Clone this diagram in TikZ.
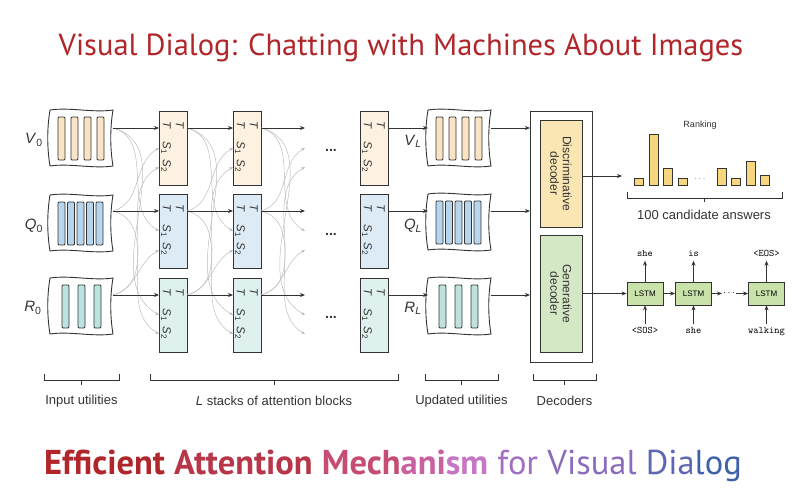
\documentclass[tikz,border=0pt]{standalone}
\usepackage{fontspec}
\setmainfont{Liberation Sans}
\newfontfamily\headfont{PT Sans}
\usetikzlibrary{arrows.meta,positioning,calc}
\usepackage{xcolor}
\definecolor{ink}{HTML}{333333}
\definecolor{soft}{HTML}{BDBDBD}
\definecolor{titlered}{HTML}{B0262A}
\definecolor{vfill}{HTML}{FDF1E2}
\definecolor{vbar}{HTML}{FBE3C6}
\definecolor{qfill}{HTML}{DDEBF6}
\definecolor{qbar}{HTML}{B7D6EE}
\definecolor{rfill}{HTML}{DFF1EF}
\definecolor{rbar}{HTML}{BDE3E1}
\definecolor{discfill}{HTML}{FAE6B2}
\definecolor{genfill}{HTML}{D5E8C6}
\definecolor{lstmfill}{HTML}{C8E2AA}
\definecolor{rankfill}{HTML}{F6D77F}
\definecolor{e1}{HTML}{B0262A}
\definecolor{e2}{HTML}{B8364A}
\definecolor{m1}{HTML}{C74C72}
\definecolor{m2}{HTML}{C960A0}
\definecolor{m3}{HTML}{C676C4}
\definecolor{f1}{HTML}{A26FC0}
\definecolor{f2}{HTML}{8A6CBA}
\definecolor{f3}{HTML}{5E68B2}
\definecolor{f4}{HTML}{3D62A8}
\tikzset{
  utilbox/.style={anchor=north west, minimum width=63, minimum height=56,
                  inner sep=0, outer sep=0},
  barstyle/.style={draw=ink, line width=0.8pt, rounded corners=1pt},
  attblock/.style={draw=ink, line width=0.8pt, anchor=north west, minimum width=28,
                   minimum height=74, inner sep=0, outer sep=0},
  blocktxt/.style={rotate=-90, anchor=north west, align=left, inner sep=0,
                   font=\fontsize{11.5}{13}\selectfont, text=ink},
  varlbl/.style={font=\fontsize{15}{15}\selectfont, text=ink, inner sep=1pt},
  decbox/.style={draw=ink, line width=0.8pt, anchor=north west, minimum width=42,
                 inner sep=0, outer sep=0},
  dectxt/.style={rotate=-90, align=center, font=\fontsize{12}{12.5}\selectfont, text=ink},
  rankbar/.style={draw=ink, line width=0.8pt, fill=rankfill, minimum width=9,
                  inner sep=0, outer sep=0},
  lstm/.style={draw=ink, line width=0.8pt, fill=lstmfill, minimum width=36,
               minimum height=23, inner sep=0, font=\fontsize{8}{8}\selectfont},
  tok/.style={font=\ttfamily\fontsize{10}{10}\selectfont, inner sep=2pt,
              text height=7pt, text depth=2pt},
  ar/.style={-{Stealth[length=5pt, width=4pt]}, line width=0.8pt, draw=ink},
  argray/.style={-{Stealth[length=4pt, width=3pt]}, line width=0.5pt, draw=soft},
  bracket/.style={draw=ink, line width=0.7pt},
  lbl/.style={font=\fontsize{13}{13}\selectfont, text=ink},
  dotlbl/.style={font=\bfseries\fontsize{14}{14}\selectfont, text=ink, inner sep=1pt},
  headtxt/.style={font=\headfont\fontsize{30.5}{30.5}\selectfont}
}
\begin{document}
\begin{tikzpicture}[x=1pt,y=1pt]
\useasboundingbox (0,0) rectangle (800,-500);

\node[headtxt, text=titlered] (title) at (401,-48)
  {Visual Dialog: Chatting with Machines About Images};

% input and updated utilities
\foreach \n/\x/\y in {iv/50/110, iq/50/195, ir/50/278, uv/428/110, uq/428/194, ur/428/278} {
  \node[utilbox] (\n) at (\x,-\y) {};
  \draw[ink, line width=0.9pt] (\n.north west) .. controls +(20,3) and +(-20,-3) .. (\n.north east)
    .. controls +(-3,-18) and +(-3,18) .. (\n.south east)
    .. controls +(-20,-3) and +(20,3) .. (\n.south west)
    .. controls +(-3,18) and +(-3,-18) .. cycle;
}
\foreach \n/\k/\o/\s/\col in {iv/4/8/13/vbar, iq/5/8/9.5/qbar, ir/3/12/16/rbar,
                              uv/4/8/13/vbar, uq/5/8/9.5/qbar, ur/3/11/16/rbar}
  \foreach \i in {1,...,\k}
    \draw[barstyle, fill=\col] ($(\n.north west)+({\o+(\i-1)*\s},-7)$) rectangle +(7,-43);

\node[varlbl] (lv0) at (34,-140) {\textit{V}\textsubscript{0}};
\node[varlbl] (lq0) at (34,-226) {\textit{Q}\textsubscript{0}};
\node[varlbl] (lr0) at (33,-308) {\textit{R}\textsubscript{0}};
\node[varlbl] (lvl) at (413,-141) {\textit{V}\textsubscript{\textit{L}}};
\node[varlbl] (lql) at (413,-226) {\textit{Q}\textsubscript{\textit{L}}};
\node[varlbl] (lrl) at (413,-308) {\textit{R}\textsubscript{\textit{L}}};

% attention blocks
\foreach \c/\x in {1/159, 2/233, L/360} {
  \foreach \r/\y/\col in {v/111/vfill, q/194/qfill, r/278/rfill} {
    \node[attblock, fill=\col] (a\c\r) at (\x,-\y) {};
    \node[blocktxt] (a\c\r-t) at ($(a\c\r.north east)+(-3,-10)$)
      {\textit{T}\\\textit{T}\hspace{13pt}\textit{S}\textsubscript{1}\hspace{5pt}\textit{S}\textsubscript{2}};
    \coordinate (a\c\r-in) at ($(a\c\r.north west)+(0,-17)$);
    \coordinate (a\c\r-s1) at ($(a\c\r.north west)+(0,-37)$);
    \coordinate (a\c\r-s2) at ($(a\c\r.north west)+(0,-56)$);
    \coordinate (a\c\r-out) at ($(a\c\r.north east)+(0,-17)$);
  }
}
\foreach \r in {v,q,r} {
  \coordinate (i\r-out) at (i\r.north east |- a1\r-in);
  \coordinate (t\r-in) at (305,0 |- a1\r-in);
  \coordinate (t\r-s1) at (305,0 |- a1\r-s1);
  \coordinate (t\r-s2) at (305,0 |- a1\r-s2);
}

% mixing between the three streams
\foreach \s/\d in {i/a1, a1/a2, a2/t} {
  \draw[argray] (\s q-out) to[out=15, in=210] (\d v-s1);
  \draw[argray] (\s r-out) to[out=15, in=210] (\d v-s2);
  \draw[argray] (\s v-out) to[out=-15, in=150] (\d q-s1);
  \draw[argray] (\s r-out) to[out=15, in=210] (\d q-s2);
  \draw[argray] (\s v-out) to[out=-15, in=150] (\d r-s1);
  \draw[argray] (\s q-out) to[out=-15, in=150] (\d r-s2);
  \foreach \r in {v,q,r}
    \draw[ar] (\s\r-out) -- (\d\r-in);
}
\node[dotlbl] (dv) at (331,-150) {...};
\node[dotlbl] (dq) at (331,-234) {...};
\node[dotlbl] (dr) at (331,-317) {...};

% decoders
\node[draw=ink, line width=0.8pt, anchor=north west, minimum width=62, minimum height=251,
      inner sep=0, outer sep=0] (dec) at (530,-111) {};
\node[decbox, fill=discfill, minimum height=107] (disc) at (540,-120) {};
\node[dectxt] (disc-t) at (disc.center) {Discriminative\\decoder};
\node[decbox, fill=genfill, minimum height=117] (gen) at (540,-235) {};
\node[dectxt] (gen-t) at (gen.center) {Generative\\decoder};
\foreach \r in {v,q,r} {
  \draw[ar] (aL\r-out) -- (u\r.west |- aL\r-out);
  \draw[ar] (u\r.east |- aL\r-out) -- (dec.west |- aL\r-out);
}

% ranking
\coordinate (rankin) at (622,-176);
\draw[ar] (disc.east |- rankin) -- (rankin);
\node[font=\fontsize{9}{9}\selectfont, text=ink] (rank) at (700,-125) {Ranking};
\foreach \i/\x/\h in {1/634/7, 2/649/51, 3/663/17, 4/678/7, 5/717/17, 6/731/7, 7/746/24, 8/760/10}
  \node[rankbar, minimum height=\h, anchor=south west] (bar\i) at (\x,-185) {};
\node[font=\fontsize{9}{9}\selectfont, text=ink] (rdots) at (700,-179) {$\cdots$};
\draw[bracket] (627,-192) |- (782,-198) -- (782,-192);
\draw[bracket] (704.5,-198) -- ++(0,-4);
\node[lbl] (cand) at (704,-215) {100 candidate answers};

% generative chain
\foreach \n/\x/\o/\i in {1/645/she/<SOS>, 2/693.5/is/she, 3/766.5/<EOS>/walking} {
  \node[lstm] (lstm\n) at (\x,-293.5) {LSTM};
  \node[tok] (out\n) at (\x,-254) {\o};
  \node[tok] (in\n) at (\x,-331) {\i};
  \draw[ar] (lstm\n.north) -- (out\n.south);
  \draw[ar] (in\n.north) -- (lstm\n.south);
}
\node[inner sep=1pt] (ldots) at (729,-293.5) {$\cdots$};
\draw[ar] (gen.east |- lstm1) -- (lstm1.west);
\draw[ar] (lstm1) -- (lstm2);
\draw[ar] (lstm2) -- (ldots);
\draw[ar] (ldots) -- (lstm3);

% group labels
\foreach \n/\a/\b/\t in {gin/44/119/Input utilities, gatt/150/398/\textit{L} stacks of attention blocks,
                         gupd/425/498/Updated utilities, gdec/533/596/Decoders} {
  \draw[bracket] (\a,-374) |- (\b,-380) -- (\b,-374);
  \draw[bracket] ({(\a+\b)/2},-380) -- ++(0,-5);
  \node[lbl] (\n) at ({(\a+\b)/2},-401) {\t};
}

\node[headtxt, font=\headfont\fontsize{34.5}{34.5}\selectfont] (subtitle) at (393,-466)
  {\textcolor{e1}{\bfseries Efficient} \textcolor{e2}{\bfseries Attention}
   \textcolor{m1}{\bfseries Mech}\textcolor{m2}{\bfseries ani}\textcolor{m3}{\bfseries sm}
   \textcolor{f1}{for} \textcolor{f2}{Visual} \textcolor{f3}{Dia}\textcolor{f4}{log}};
\end{tikzpicture}
\end{document}
